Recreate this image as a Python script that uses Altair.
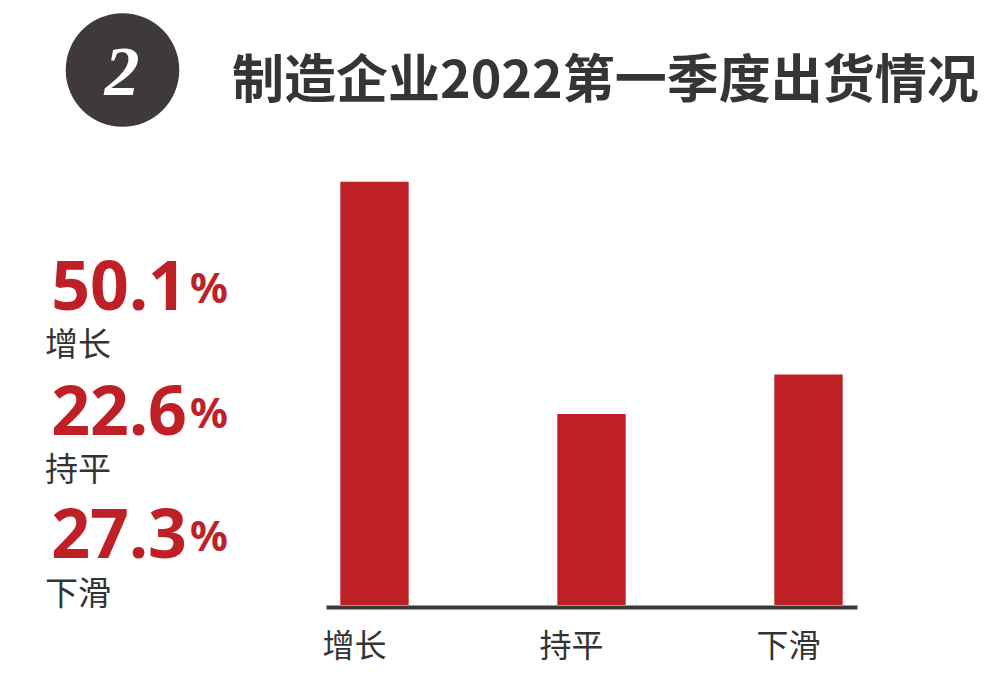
import altair as alt
import pandas as pd

# ---- data ----
categories = ["增长", "持平", "下滑"]
values = [50.1, 22.6, 27.3]
title_text = "制造企业2022第一季度出货情况"
badge_text = "2"

RED = "#be2026"
DARK = "#333333"

df = pd.DataFrame({
    "category": categories,
    "value": values,
    "label": [f"{v:.1f}" for v in values],
    "pct": ["%"] * len(values),
})

bars = alt.Chart(df).mark_bar(color=RED).encode(
    x=alt.X(
        "category:N",
        sort=categories,
        scale=alt.Scale(paddingInner=0.685, paddingOuter=0.066),
        axis=alt.Axis(
            title=None, domainColor="#383838", domainWidth=4, ticks=False,
            labelAngle=0, labelFont="Noto Sans CJK SC", labelFontSize=32,
            labelColor=DARK, labelPadding=24, labelOffset=-20, offset=2,
            labelBaseline="top", grid=False,
        ),
    ),
    y=alt.Y("value:Q", scale=alt.Scale(domain=[0, 50.2], nice=False, zero=True), axis=None),
)

meta = pd.DataFrame({"badge": [badge_text], "title": [title_text]})

circle = alt.Chart(meta).mark_circle(size=12900, color="#3e3a39", opacity=1).encode(
    x=alt.value(-203.5), y=alt.value(-111)
)
badge = alt.Chart(meta).mark_text(
    font="Liberation Serif", fontStyle="italic", fontWeight="bold", fontSize=70,
    color="white", align="center", baseline="alphabetic",
).encode(x=alt.value(-204), y=alt.value(-86), text="badge:N")

title = alt.Chart(meta).mark_text(
    font="Noto Sans CJK SC", fontWeight="bold", fontSize=52, color="#353535",
    align="left", baseline="alphabetic",
).encode(x=alt.value(-94), y=alt.value(-83), text="title:N")

num_y = [129, 254, 377]
lab_y = [175, 300, 424]
side_layers = []
for i, cat in enumerate(categories):
    base = alt.Chart(df).transform_filter(alt.datum.category == cat)
    side_layers.append(base.mark_text(
        font="Noto Sans", fontWeight="bold", fontSize=68, color=RED,
        align="right", baseline="alphabetic",
    ).encode(x=alt.value(-139), y=alt.value(num_y[i]), text="label:N"))
    side_layers.append(base.mark_text(
        font="Noto Sans", fontWeight="bold", fontSize=42, color=RED,
        align="left", baseline="alphabetic",
    ).encode(x=alt.value(-136), y=alt.value(num_y[i] - 7), text="pct:N"))
    side_layers.append(base.mark_text(
        font="Noto Sans CJK SC", fontSize=33, color=DARK,
        align="left", baseline="alphabetic",
    ).encode(x=alt.value(-281), y=alt.value(lab_y[i]), text="category:N"))

chart = alt.layer(bars, circle, badge, title, *side_layers).properties(
    width=531, height=424,
    autosize=alt.AutoSizeParams(type="none"),
    padding={"left": 318, "top": 173, "right": 135, "bottom": 60},
    background="white",
).configure_view(stroke=None)

chart.save("out.html", embed_options={"renderer": "svg", "actions": False})
